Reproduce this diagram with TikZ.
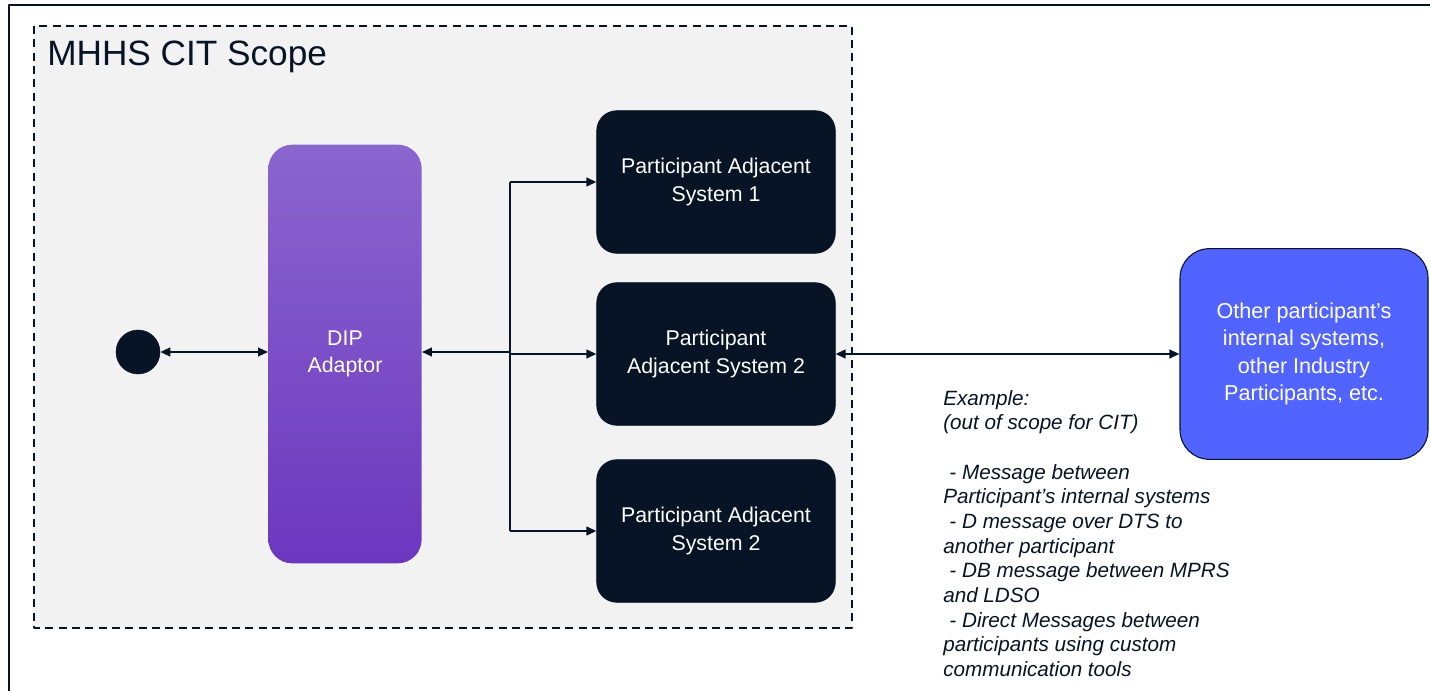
\documentclass[tikz,border=0pt]{standalone}
\usepackage{fontspec}
\setmainfont{Liberation Sans}
\usetikzlibrary{arrows.meta}

\begin{document}
\begin{tikzpicture}[
  x=0.75pt, y=-0.75pt, % one unit = one pixel, y grows downward
  line join=round,
  >={Triangle[length=7.5pt,width=6.5pt]},
  link/.style={draw=navy, line width=1.5pt},
  sysbox/.style={rounded corners=15pt, fill=navy, draw=navy, text=white,
    minimum width=179pt, minimum height=107pt, align=center,
    font=\fontsize{16}{20.3}\selectfont},
]
  % ---- colours ----
  \definecolor{navy}{RGB}{6,20,38}
  \definecolor{scopegray}{RGB}{242,242,242}
  \definecolor{diptop}{RGB}{138,102,207}
  \definecolor{dipbot}{RGB}{108,55,191}
  \definecolor{otherblue}{RGB}{82,100,255}

  % ---- canvas ----
  \useasboundingbox (0,0) rectangle (1430,691);
  \fill[white] (0,0) rectangle (1430,691);

  % ---- outer frame (only top and left edges fall inside) ----
  \draw[navy, line width=1.6pt] (9,691) -- (9,5) -- (1430,5);

  % ---- CIT scope area ----
  \draw[navy, fill=scopegray, line width=1.1pt, dash pattern=on 6pt off 4pt]
    (34,26) rectangle (852,628);
  \node[anchor=base west, inner sep=0pt, text=navy,
    font=\fontsize{26.4}{30}\selectfont] (title) at (47,66) {MHHS CIT Scope};

  % ---- nodes ----
  \node[circle, fill=navy, draw=navy, minimum size=33pt, inner sep=0pt]
    (circ) at (138,352) {};
  \node[rounded corners=18pt, top color=diptop, bottom color=dipbot, text=white,
    minimum width=115pt, minimum height=314pt, align=center,
    font=\fontsize{16}{20.3}\selectfont] (dip) at (345,354) {DIP\\Adaptor};
  \node[sysbox] (pas1) at (716,182) {Participant Adjacent\\System 1};
  \node[sysbox] (pas2) at (716,354) {Participant\\Adjacent System 2};
  \node[sysbox] (pas3) at (716,531) {Participant Adjacent\\System 2};
  \node[rounded corners=22pt, fill=otherblue, draw=navy, line width=0.8pt,
    text=white, minimum width=186pt, minimum height=158pt, align=center,
    font=\fontsize{16.2}{20.6}\selectfont] (other) at (1304,354)
    {Other participant’s\\internal systems,\\other Industry\\Participants, etc.};

  % ---- note on what is out of scope ----
  \node[anchor=north west, inner sep=0pt, align=left, text=navy,
    font=\fontsize{15.5}{18.5}\selectfont\itshape] (note) at (943,390)
    {Example:\\(out of scope for CIT)\\[18.5pt]
     \hspace{0.3em}- Message between\\Participant’s internal systems\\
     \hspace{0.3em}- D message over DTS to\\another participant\\
     \hspace{0.3em}- DB message between MPRS\\and LDSO\\
     \hspace{0.3em}- Direct Messages between\\participants using custom\\
     communication tools};

  % ---- connectors ----
  \coordinate (jn) at (510,352);
  \draw[link, <->] (circ) -- (circ -| dip.west);
  \draw[link, ->] (jn) -- (jn -| dip.east);
  \draw[link] (jn |- pas1) -- (jn |- pas3);
  \foreach \sys in {pas1,pas2,pas3} {
    \draw[link, ->] (jn |- \sys) -- (\sys);
  }
  \draw[link, <->] (pas2) -- (other);

\end{tikzpicture}
\end{document}
